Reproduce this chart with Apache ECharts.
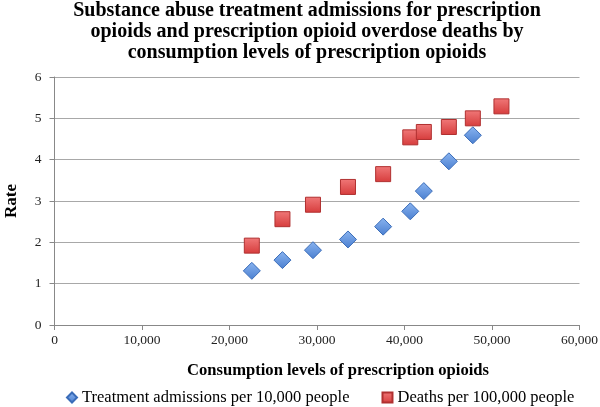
<!DOCTYPE html>
<html><head><meta charset="utf-8">
<script src="https://cdn.jsdelivr.net/npm/echarts@6/dist/echarts.min.js"></script>
<style>html,body{margin:0;padding:0;background:#fff}#c{width:600px;height:407px}</style>
</head><body><div id="c"></div>
<script>
const titleText = 'Substance abuse treatment admissions for prescription\nopioids and prescription opioid overdose deaths by\nconsumption levels of prescription opioids';
const xAxisName = 'Consumption levels of prescription opioids';
const yAxisName = 'Rate';
const seriesNames = ['Treatment admissions per 10,000 people', 'Deaths per 100,000 people'];
const treatX = [22550, 26050, 29540, 33540, 37560, 40660, 42210, 45070, 47810];
const treatY = [1.31, 1.57, 1.81, 2.07, 2.38, 2.75, 3.24, 3.96, 4.59];
const deathX = [22550, 26050, 29540, 33540, 37560, 40660, 42210, 45070, 47810, 51080];
const deathY = [1.92, 2.56, 2.91, 3.34, 3.65, 4.54, 4.67, 4.79, 5.00, 5.29];

const font = '"Liberation Serif", "DejaVu Serif", serif';
const chart = echarts.init(document.getElementById('c'), null, {renderer: 'canvas'});
const blue = new echarts.graphic.LinearGradient(0,0,0,1,[{offset:0,color:'#8ab4f0'},{offset:1,color:'#4a7fd0'}]);
const red = new echarts.graphic.LinearGradient(0,0,0,1,[{offset:0,color:'#f07878'},{offset:1,color:'#d63c3c'}]);
chart.setOption({
  animation: false,
  title: {text: titleText, left: 307, textAlign: 'center', top: 0, padding: 0,
    textStyle: {fontFamily: font, fontWeight: 'bold', fontSize: 20, lineHeight: 21, color: '#000'}},
  grid: {left: 54.5, right: 20.5, top: 77, bottom: 82, containLabel: false, outerBoundsMode: 'none'},
  xAxis: {type: 'value', min: 0, max: 60000, interval: 10000,
    name: xAxisName, nameLocation: 'middle', nameGap: 37,
    nameTextStyle: {fontFamily: font, fontWeight: 'bold', fontSize: 16.6, color: '#000', padding: [0, 0, 0, 42]},
    axisLine: {show: true, lineStyle: {color: '#888'}},
    axisTick: {show: true, length: 5, lineStyle: {color: '#888'}},
    splitLine: {show: false},
    axisLabel: {fontFamily: font, fontSize: 13.5, color: '#222', margin: 8,
      formatter: v => v.toLocaleString('en-US')}},
  yAxis: {type: 'value', min: 0, max: 6, interval: 1,
    name: yAxisName, nameLocation: 'middle', nameGap: 34, nameRotate: 90,
    nameTextStyle: {fontFamily: font, fontWeight: 'bold', fontSize: 17, color: '#000'},
    axisLine: {show: true, lineStyle: {color: '#888'}},
    axisTick: {show: true, length: 5, lineStyle: {color: '#888'}},
    splitLine: {show: true, lineStyle: {color: '#a8a8a8', width: 1}},
    axisLabel: {fontFamily: font, fontSize: 13.5, color: '#222', margin: 13}},
  legend: {top: 389, left: 66, padding: 0, itemGap: 32, itemWidth: 10, itemHeight: 10,
    textStyle: {fontFamily: font, fontSize: 16.5, color: '#000'},
    data: [{name: seriesNames[0], icon: 'diamond'}, {name: seriesNames[1], icon: 'rect'}]},
  series: [
    {name: seriesNames[0], type: 'scatter', symbol: 'diamond', symbolSize: 17,
      itemStyle: {color: blue, borderColor: '#3a6cb8', borderWidth: 1, opacity: 1},
      data: treatX.map((x, i) => [x, treatY[i]])},
    {name: seriesNames[1], type: 'scatter', symbol: 'rect', symbolSize: 15,
      itemStyle: {color: red, borderColor: '#b03030', borderWidth: 1, opacity: 1},
      data: deathX.map((x, i) => [x, deathY[i]])}
  ]
});
</script></body></html>
